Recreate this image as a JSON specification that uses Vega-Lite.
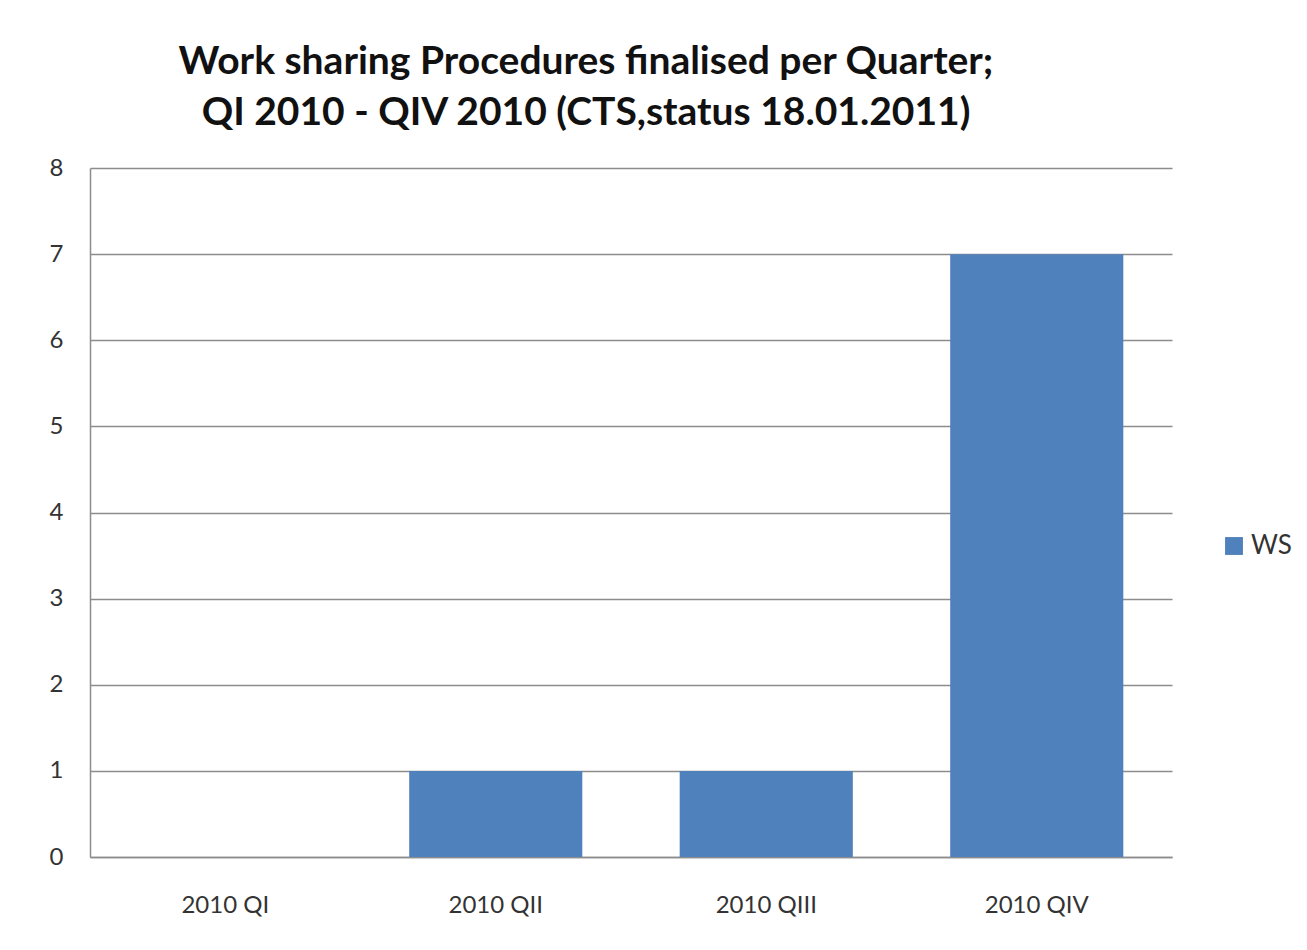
{
  "$schema": "https://vega.github.io/schema/vega-lite/v6.json",
  "width": 1082,
  "height": 689,
  "autosize": {"type": "none"},
  "padding": {"left": 90, "top": 168, "right": 135, "bottom": 93},
  "background": "white",
  "title": {
    "text": ["Work sharing Procedures finalised per Quarter;", "QI 2010 - QIV 2010  (CTS,status  18.01.2011)"],
    "font": "Lato",
    "fontSize": 39,
    "fontWeight": "bold",
    "color": "#111111",
    "lineHeight": 51,
    "anchor": "middle",
    "dx": -45,
    "offset": 23
  },
  "data": {
    "values": [
      {"quarter": "2010 QI", "value": 0, "series": "WS"},
      {"quarter": "2010 QII", "value": 1, "series": "WS"},
      {"quarter": "2010 QIII", "value": 1, "series": "WS"},
      {"quarter": "2010 QIV", "value": 7, "series": "WS"}
    ]
  },
  "mark": {"type": "bar", "color": "#4F81BD"},
  "encoding": {
    "x": {
      "field": "quarter",
      "type": "nominal",
      "sort": null,
      "title": null,
      "scale": {"paddingInner": 0.36, "paddingOuter": 0.18},
      "axis": {
        "labelAngle": 0,
        "labelFont": "Lato",
        "labelFontSize": 24,
        "labelColor": "#333333",
        "labelPadding": 36,
        "ticks": false,
        "domainColor": "#8c8c8c",
        "domainWidth": 1.5,
        "grid": false
      }
    },
    "y": {
      "field": "value",
      "type": "quantitative",
      "title": null,
      "scale": {"domain": [0, 8]},
      "axis": {
        "values": [0, 1, 2, 3, 4, 5, 6, 7, 8],
        "labelFont": "Lato",
        "labelFontSize": 24,
        "labelColor": "#333333",
        "labelPadding": 27,
        "ticks": false,
        "domainColor": "#8c8c8c",
        "domainWidth": 1.5,
        "grid": true,
        "gridColor": "#8c8c8c",
        "gridWidth": 1.5
      }
    },
    "color": {
      "field": "series",
      "type": "nominal",
      "scale": {"range": ["#4F81BD"]},
      "legend": {
        "title": null,
        "orient": "none",
        "legendX": 1131,
        "legendY": 365,
        "symbolType": "square",
        "symbolSize": 320,
        "symbolStrokeWidth": 0,
        "labelFont": "Lato",
        "labelFontSize": 26,
        "labelColor": "#333333"
      }
    }
  },
  "config": {
    "view": {"stroke": null}
  }
}
